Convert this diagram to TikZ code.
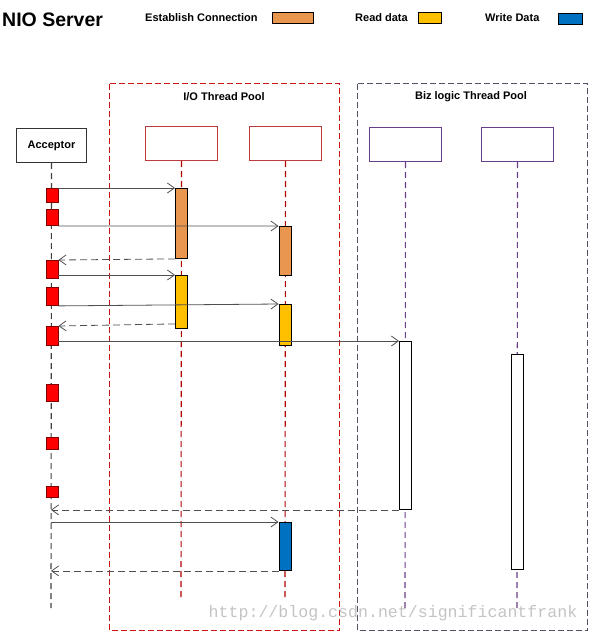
\documentclass[tikz,border=0pt]{standalone}
\usepackage{fontspec}
\setmainfont{Liberation Sans}
\setmonofont{Liberation Mono}
\usetikzlibrary{arrows.meta}
\definecolor{orangeF}{HTML}{E9964F}
\definecolor{yellowF}{HTML}{FFC000}
\definecolor{blueF}{HTML}{0070C0}
\definecolor{redF}{HTML}{FF0000}
\definecolor{redB}{HTML}{7F0000}
\definecolor{ioRed}{RGB}{200,20,20}
\definecolor{ioLife}{HTML}{B00000}
\definecolor{ioHead}{HTML}{C0393B}
\definecolor{bizGray}{HTML}{5A4E66}
\definecolor{bizHead}{HTML}{6A3F8A}
\definecolor{arrowC}{HTML}{505050}
\definecolor{wmark}{HTML}{C4C4C4}
\begin{document}
\begin{tikzpicture}[x=1pt,y=-1pt,
  lbl/.style={font=\bfseries\fontsize{11}{13}\selectfont, inner sep=0pt},
  head/.style={draw, line width=1pt, minimum width=72pt, minimum height=34pt, inner sep=0pt, anchor=north west},
  life/.style={line width=1.1pt, dash pattern=on 6pt off 4pt},
  bar/.style={draw=black, line width=0.9pt, minimum width=12pt, inner sep=0pt, anchor=north},
  req/.style={bar, fill=redF, draw=redB},
  legbox/.style={draw=black, line width=0.8pt, inner sep=0pt, anchor=north west},
  poolline/.style={line width=1.2pt, dash pattern=on 6pt off 3pt},
  msg/.style={draw=arrowC, line width=0.8pt, -{Straight Barb[length=7pt,width=10pt]}},
  ret/.style={msg, dash pattern=on 7pt off 4pt}
]
\useasboundingbox (0,0) rectangle (590,633);

% title and legend
\node[inner sep=0pt, anchor=base west, font=\bfseries\fontsize{19.5}{22}\selectfont] (title) at (2,26.5) {NIO Server};
\node[lbl, anchor=base west] (lgE) at (145,21.5) {Establish Connection};
\node[legbox, fill=orangeF, minimum width=41pt, minimum height=11pt] (lgEb) at (272,12) {};
\node[lbl, anchor=base west] (lgR) at (355,21.5) {Read data};
\node[legbox, fill=yellowF, minimum width=23pt, minimum height=11pt] (lgRb) at (418,12) {};
\node[lbl, anchor=base west] (lgW) at (485,21.5) {Write Data};
\node[legbox, fill=blueF, minimum width=24pt, minimum height=11pt] (lgWb) at (558,13) {};

% pools
\draw[poolline, color=ioRed] (109.5,83.5) rectangle (339.5,630.5);
\node[lbl] (iolbl) at (224,96.5) {I/O Thread Pool};
\draw[poolline, color=bizGray] (357.5,83.5) rectangle (587.5,630.5);
\node[lbl] (bizlbl) at (471,96.5) {Biz logic Thread Pool};

% heads
\node[head, draw=black!80, minimum width=70pt] (acc) at (16,128) {};
\node[lbl] (acctxt) at (acc.center) {Acceptor};
\node[head, draw=ioHead] (io1) at (145,126) {};
\node[head, draw=ioHead] (io2) at (249,126) {};
\node[head, draw=bizHead] (bz1) at (369,127) {};
\node[head, draw=bizHead] (bz2) at (481,127) {};

% lifeline ends
\coordinate (accEnd) at (51,608);
\coordinate (io1End) at (181,600);
\coordinate (io2End) at (285,600);
\coordinate (bz1End) at (405,612);
\coordinate (bz2End) at (517,612);

\draw[life, draw=black!75] (acc.south) -- (accEnd);
\draw[life, draw=ioLife] (io1.south) -- (io1End);
\draw[life, draw=ioLife] (io2.south) -- (io2End);
\draw[life, draw=bizHead] (bz1.south) -- (bz1End);
\draw[life, draw=bizHead] (bz2.south) -- (bz2End);

% acceptor request squares
\node[req, minimum height=14pt] (r1) at (52,188) {};
\node[req, minimum height=16pt] (r2) at (52,209) {};
\node[req, minimum height=18pt] (r3) at (52,260) {};
\node[req, minimum height=18pt] (r4) at (52,287) {};
\node[req, minimum height=19pt] (r5) at (52,326) {};
\node[req, minimum height=17pt] (r6) at (52,384) {};
\node[req, minimum height=12pt] (r7) at (52,437) {};
\node[req, minimum height=11pt] (r8) at (52,486) {};

% activation bars
\node[bar, fill=orangeF, minimum height=70pt] (o1) at (181.5,188) {};
\node[bar, fill=orangeF, minimum height=49pt] (o2) at (285,226) {};
\node[bar, fill=yellowF, minimum height=53pt] (y1) at (181.5,275) {};
\node[bar, fill=yellowF, minimum height=41pt] (y2) at (285,304) {};
\node[bar, fill=white, minimum height=168pt] (w1) at (405.5,341) {};
\node[bar, fill=white, minimum height=215pt] (w2) at (517.5,354) {};
\node[bar, fill=blueF, minimum height=48pt] (b1) at (285,522) {};

% messages
\draw[msg] (r1.north east) -- (o1.north west);
\draw[msg] (r2.south east) -- (o2.north west);
\draw[ret] (o1.south west) -- (r3.north east);
\draw[msg] (r3.east |- y1.north) -- (y1.north west);
\draw[msg] (r4.south east) -- (y2.north west);
\draw[ret] ([yshift=5pt]y1.south west) -- (r5.north east);
\draw[msg] (r5.east |- w1.north) -- (w1.north west);
\draw[ret] (w1.south west) -- (accEnd |- w1.south);
\draw[msg] (accEnd |- b1.north) -- (b1.north west);
\draw[ret] (b1.south west) -- (accEnd |- b1.south);

% watermark
\node[inner sep=0pt, text=wmark, font=\ttfamily\fontsize{16.6}{18}\selectfont] (wm) at (393,613) {http://blog.csdn.net/significantfrank};
\end{tikzpicture}
\end{document}
